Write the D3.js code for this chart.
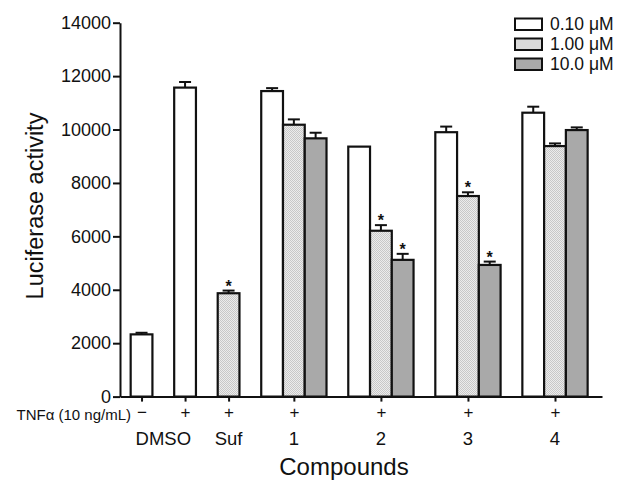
<!DOCTYPE html>
<html>
  <head>
    <title>Luciferase activity</title>
    <script src="https://d3js.org/d3.v7.min.js"></script>
    <style>
      body { margin: 0; background: #fff; }
      text { font-family: "Liberation Sans", Arial, sans-serif; fill: #111; }
    </style>
  </head>
  <body>
    <div id="chart"></div>
    <script>
      // Data
      var categories = ["DMSO", "DMSO", "Suf", "1", "2", "3", "4"];
      var tnfLabels = ["\u2212", "+", "+", "+", "+", "+", "+"];
      var seriesNames = ["0.10 \u03bcM", "1.00 \u03bcM", "10.0 \u03bcM"];
      var conc01 = [2330, 11570, null, 11440, 9360, 9900, 10630];
      var conc1 = [null, null, 3870, 10180, 6210, 7510, 9380];
      var conc10 = [null, null, null, 9670, 5120, 4930, 9980];
      var err01 = [60, 210, null, 110, 0, 210, 225];
      var err1 = [null, null, 100, 200, 210, 140, 100];
      var err10 = [null, null, null, 210, 225, 125, 100];
      var sig01 = [0, 0, 0, 0, 0, 0, 0];
      var sig1 = [0, 0, 1, 0, 1, 1, 0];
      var sig10 = [0, 0, 0, 0, 1, 1, 0];
      var yTicks = [0, 2000, 4000, 6000, 8000, 10000, 12000, 14000];

      var values = [conc01, conc1, conc10];
      var errors = [err01, err1, err10];
      var sigs = [sig01, sig1, sig10];

      var svg = d3.select("#chart")
        .append("svg")
        .attr("width", 620)
        .attr("height", 482);

      // fine dotted texture for the 1.00 uM bars
      var defs = svg.append("defs");
      var pat = defs.append("pattern")
        .attr("id", "dots")
        .attr("width", 2)
        .attr("height", 2)
        .attr("patternUnits", "userSpaceOnUse");
      pat.append("rect").attr("width", 2).attr("height", 2).attr("fill", "#ececec");
      pat.append("rect").attr("width", 1).attr("height", 1).attr("fill", "#c8c8c8");
      pat.append("rect").attr("x", 1).attr("y", 1).attr("width", 1).attr("height", 1).attr("fill", "#c8c8c8");

      var fills = ["#ffffff", "url(#dots)", "#a9a9a9"];

      // build bar list: consecutive slots, one slot gap between categories
      var bars = [];
      var centers = [];
      var slot = 0;
      categories.forEach(function(c, i) {
        var start = slot;
        values.forEach(function(v, s) {
          if (v[i] != null) {
            bars.push({ cat: i, s: s, slot: slot, value: v[i], err: errors[s][i], sig: sigs[s][i] });
            slot += 1;
          }
        });
        centers.push((start + slot) / 2);
        slot += 1;
      });

      var x = d3.scaleLinear()
        .domain([-0.49, slot - 1 + 0.66])
        .range([120, 602]);

      var y = d3.scaleLinear()
        .domain([0, 14000])
        .range([396.6, 22.7]);

      var unit = x(1) - x(0);

      // bars
      svg.append("g").selectAll("rect")
        .data(bars)
        .enter()
        .append("rect")
        .attr("x", function(d) { return x(d.slot); })
        .attr("y", function(d) { return y(d.value); })
        .attr("width", unit)
        .attr("height", function(d) { return y(0) - y(d.value); })
        .attr("fill", function(d) { return fills[d.s]; })
        .attr("stroke", "#111")
        .attr("stroke-width", 2.2);

      // error bars (upper only)
      var eb = svg.append("g").selectAll("g")
        .data(bars.filter(function(d) { return d.err > 0; }))
        .enter()
        .append("g");
      eb.append("line")
        .attr("x1", function(d) { return x(d.slot + 0.5); })
        .attr("x2", function(d) { return x(d.slot + 0.5); })
        .attr("y1", function(d) { return y(d.value); })
        .attr("y2", function(d) { return y(d.value + d.err); })
        .attr("stroke", "#111")
        .attr("stroke-width", 2);
      eb.append("line")
        .attr("x1", function(d) { return x(d.slot + 0.5) - 6; })
        .attr("x2", function(d) { return x(d.slot + 0.5) + 6; })
        .attr("y1", function(d) { return y(d.value + d.err); })
        .attr("y2", function(d) { return y(d.value + d.err); })
        .attr("stroke", "#111")
        .attr("stroke-width", 2);

      // significance stars
      svg.append("g").selectAll("text")
        .data(bars.filter(function(d) { return d.sig; }))
        .enter()
        .append("text")
        .attr("x", function(d) { return x(d.slot + 0.5); })
        .attr("y", function(d) { return y(d.value + d.err) + 1; })
        .attr("text-anchor", "middle")
        .style("font-size", "16px")
        .style("font-weight", "bold")
        .text("*");

      // y axis
      var yAxis = svg.append("g")
        .attr("transform", "translate(120,0)")
        .call(d3.axisLeft(y).tickValues(yTicks).tickFormat(d3.format("d")).tickSize(7).tickSizeOuter(0).tickPadding(2));
      yAxis.select(".domain").attr("stroke", "#111").attr("stroke-width", 2);
      yAxis.selectAll(".tick line").attr("stroke", "#111").attr("stroke-width", 2);
      yAxis.selectAll(".tick text")
        .style("font-size", "18px")
        .style("font-family", "Liberation Sans, Arial, sans-serif")
        .attr("fill", "#111");

      // x axis with TNF +/- labels
      var xAxis = svg.append("g")
        .attr("transform", "translate(0," + y(0) + ")")
        .call(d3.axisBottom(x).tickValues(centers).tickFormat(function(d, i) { return tnfLabels[i]; })
          .tickSize(5).tickSizeOuter(0).tickPadding(4));
      xAxis.select(".domain").attr("stroke", "#111").attr("stroke-width", 2);
      xAxis.selectAll(".tick line").attr("stroke", "#111").attr("stroke-width", 2);
      xAxis.selectAll(".tick text")
        .style("font-size", "17px")
        .style("font-family", "Liberation Sans, Arial, sans-serif")
        .attr("fill", "#111");

      svg.append("text")
        .attr("x", 131)
        .attr("y", 420)
        .attr("text-anchor", "end")
        .style("font-size", "15px")
        .text("TNF\u03b1 (10 ng/mL)");

      // compound names, one label per run of equal names
      var names = [];
      categories.forEach(function(c, i) {
        var last = names[names.length - 1];
        if (last && last.name === c) last.pos.push(centers[i]);
        else names.push({ name: c, pos: [centers[i]] });
      });
      svg.append("g").selectAll("text")
        .data(names)
        .enter()
        .append("text")
        .attr("x", function(d) { return x(d3.mean(d.pos)); })
        .attr("y", 445)
        .attr("text-anchor", "middle")
        .style("font-size", "18.5px")
        .text(function(d) { return d.name; });

      // axis titles
      svg.append("text")
        .attr("x", 344)
        .attr("y", 475)
        .attr("text-anchor", "middle")
        .style("font-size", "24px")
        .text("Compounds");

      svg.append("text")
        .attr("transform", "translate(43,206) rotate(-90)")
        .attr("text-anchor", "middle")
        .style("font-size", "23.5px")
        .text("Luciferase activity");

      // legend
      var legend = svg.append("g").selectAll("g")
        .data(seriesNames)
        .enter()
        .append("g")
        .attr("transform", function(d, i) { return "translate(515," + (18.5 + i * 20) + ")"; });
      legend.append("rect")
        .attr("width", 27)
        .attr("height", 11.5)
        .attr("fill", function(d, i) { return fills[i]; })
        .attr("stroke", "#111")
        .attr("stroke-width", 2);
      legend.append("text")
        .attr("x", 35)
        .attr("y", 11.5)
        .style("font-size", "17.5px")
        .text(function(d) { return d; });
    </script>
  </body>
</html>
